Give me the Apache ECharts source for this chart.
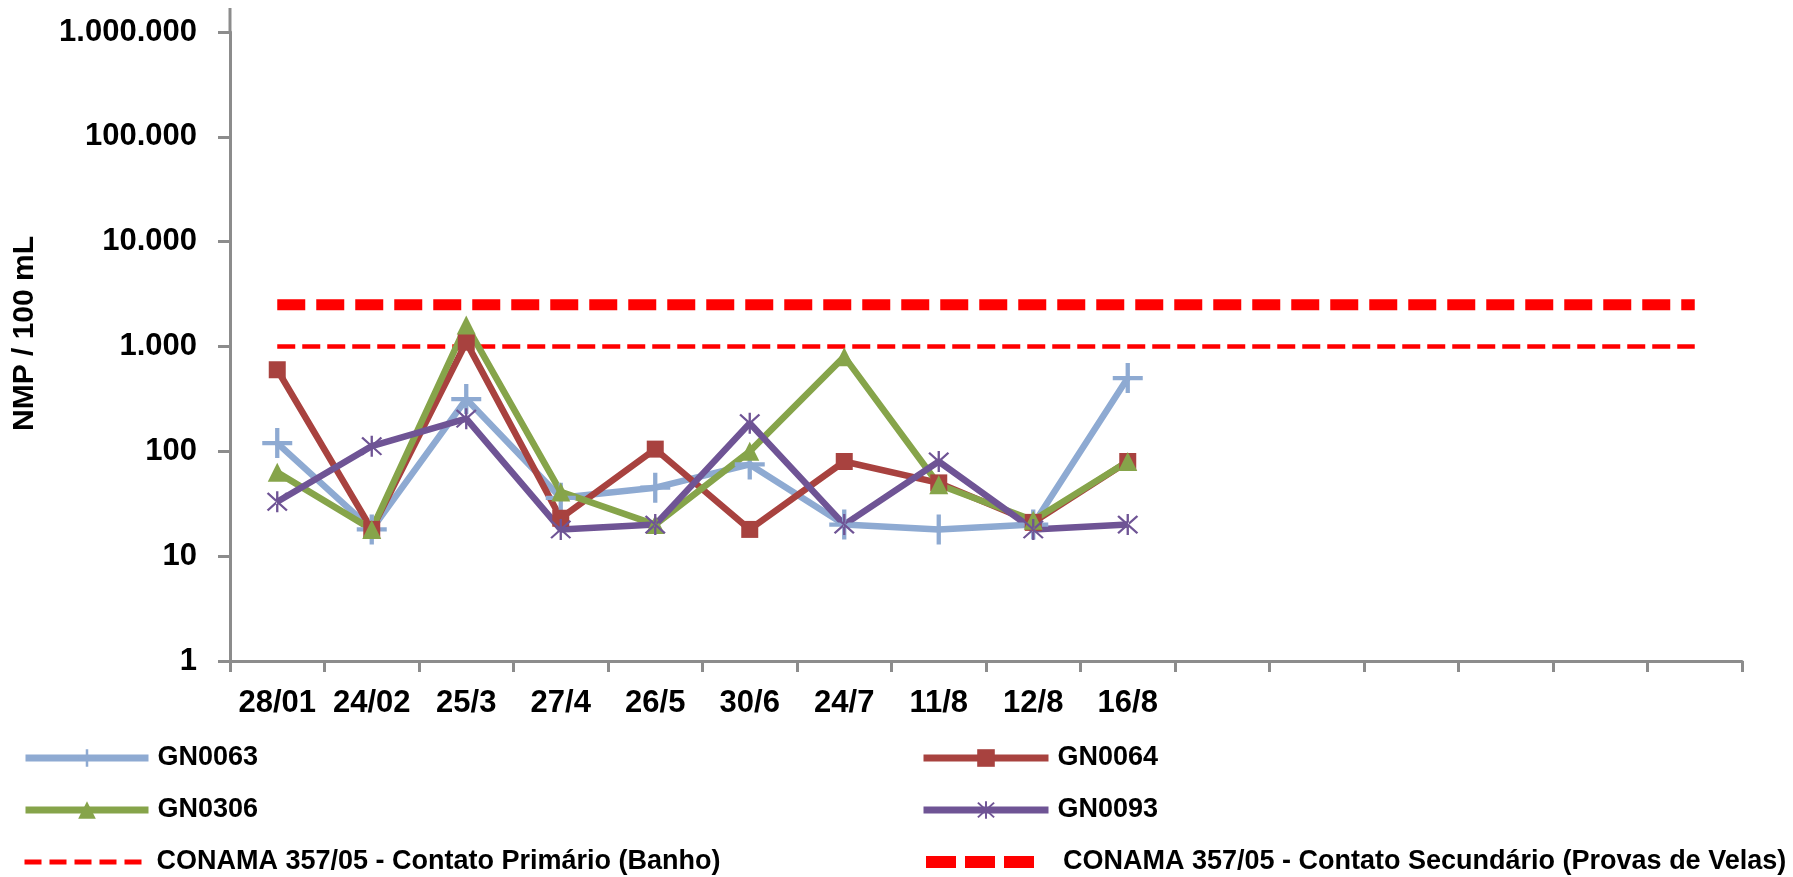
<!DOCTYPE html>
<html>
<head>
<meta charset="utf-8">
<script src="https://cdn.jsdelivr.net/npm/echarts@6/dist/echarts.min.js"></script>
<style>
html,body{margin:0;padding:0;background:#fff;}
#chart{width:1793px;height:877px;}
</style>
</head>
<body>
<div id="chart"></div>
<script>
const categories = ['28/01','24/02','25/3','27/4','26/5','30/6','24/7','11/8','12/8','16/8','','','','','',''];
const gn0063 = [120, 18, 315, 36, 45, 75, 20, 18, 20, 500];
const gn0064 = [600, 18, 1100, 23, 105, 18, 80, 50, 21, 80];
const gn0306 = [63, 18, 1600, 41, 20, 100, 800, 48, 22, 80];
const gn0093 = [33, 112, 205, 18, 20, 185, 20, 80, 18, 20];
const primaryLimit = 1000;
const secondaryLimit = 2500;
const primaryLine = categories.map(() => primaryLimit);
const secondaryLine = categories.map(() => secondaryLimit);

const NAME_PRIMARY = 'CONAMA 357/05 - Contato Primário (Banho)';
const NAME_SECONDARY = 'CONAMA 357/05 - Contato Secundário (Provas de Velas)';

const FONT = "'Liberation Sans', Arial, sans-serif";
const plusPath = 'path://M3,0h1v3h3v1h-3v3h-1v-3h-3v-1h3z';
const starPath = 'path://M9,0h2v20h-2z M1,2.4L2.4,1L19,17.6L17.6,19z M19,2.4L17.6,1L1,17.6L2.4,19z';

const C_BLUE = '#8eaad2', C_RED = '#a8423f', C_GREEN = '#86a44a', C_PURPLE = '#6f5495';

function fmt(v){ return String(Math.round(v)).replace(/\B(?=(\d{3})+(?!\d))/g, '.'); }

const chart = echarts.init(document.getElementById('chart'), null, {renderer:'canvas'});
function dataSeries(name, data, color, symbol, size){
  return {
    name, type:'line', data, symbol, symbolSize:size, showSymbol:true,
    lineStyle:{color, width:6.5},
    itemStyle:{color, borderWidth:0},
    emphasis:{disabled:true}, animation:false, z:3
  };
}
function legendItem(name, left, centerY, itemWidth, lineStyle, hideSymbol, textPad){
  const d = {name, lineStyle};
  if (hideSymbol) d.itemStyle = {opacity:0};
  return {
    data:[d], orient:'horizontal', left, top:centerY - 15, padding:0,
    itemWidth, itemHeight:22, selectedMode:false,
    textStyle:{color:'#000', fontSize:27, fontWeight:'bold', fontFamily:FONT, lineHeight:30, padding:[0,0,0,textPad || 4]}
  };
}
chart.setOption({
  animation:false,
  grid:{left:230, right:51, top:32, bottom:216, containLabel:false},
  xAxis:{
    type:'category', data:categories, boundaryGap:true,
    axisLine:{lineStyle:{color:'#8c8c8c', width:3}},
    axisTick:{show:true, interval:0, length:11, lineStyle:{color:'#8c8c8c', width:3}},
    axisLabel:{interval:0, margin:27, color:'#000', fontSize:31, fontWeight:'bold', fontFamily:FONT},
    splitLine:{show:false}
  },
  yAxis:{
    type:'log', logBase:10, min:1, max:1000000,
    name:'NMP / 100 mL', nameLocation:'middle', nameGap:190, nameRotate:90,
    nameTextStyle:{color:'#000', fontSize:30, fontWeight:'bold', fontFamily:FONT, padding:[0,0,0,26]},
    axisLine:{show:true, lineStyle:{color:'#8c8c8c', width:3}},
    axisTick:{show:true, length:12, lineStyle:{color:'#8c8c8c', width:3}},
    axisLabel:{margin:33, color:'#000', fontSize:31, fontWeight:'bold', fontFamily:FONT, formatter:fmt},
    splitLine:{show:false}, minorTick:{show:false}
  },
  graphic:[{
    type:'line', shape:{x1:230, y1:8, x2:230, y2:33},
    style:{stroke:'#8c8c8c', lineWidth:3}, silent:true
  }],
  legend:[
    legendItem('GN0063', 22, 758, 123, {width:7}),
    legendItem('GN0306', 22, 810, 123, {width:7}),
    legendItem(NAME_PRIMARY, 22, 862, 123, {width:5, type:[17,8]}, true),
    legendItem('GN0064', 920, 758, 125, {width:7}),
    legendItem('GN0093', 920, 810, 125, {width:7}),
    legendItem(NAME_SECONDARY, 920, 862, 108, {width:12, type:[30,9]}, true, 24)
  ],
  series:[
    {
      name:NAME_PRIMARY, type:'line', data:primaryLine,
      symbol:'none', lineStyle:{color:'#ff0000', width:4.5, type:[18,7], cap:'butt'},
      itemStyle:{color:'#ff0000'}, z:2, emphasis:{disabled:true}
    },
    {
      name:NAME_SECONDARY, type:'line', data:secondaryLine,
      symbol:'none', lineStyle:{color:'#ff0000', width:11, type:[28,11], cap:'butt'},
      itemStyle:{color:'#ff0000'}, z:2, emphasis:{disabled:true}
    },
    dataSeries('GN0063', gn0063, C_BLUE, plusPath, 30),
    dataSeries('GN0064', gn0064, C_RED, 'rect', 17),
    dataSeries('GN0306', gn0306, C_GREEN, 'triangle', 19),
    dataSeries('GN0093', gn0093, C_PURPLE, starPath, 21)
  ]
});
</script>
</body>
</html>
